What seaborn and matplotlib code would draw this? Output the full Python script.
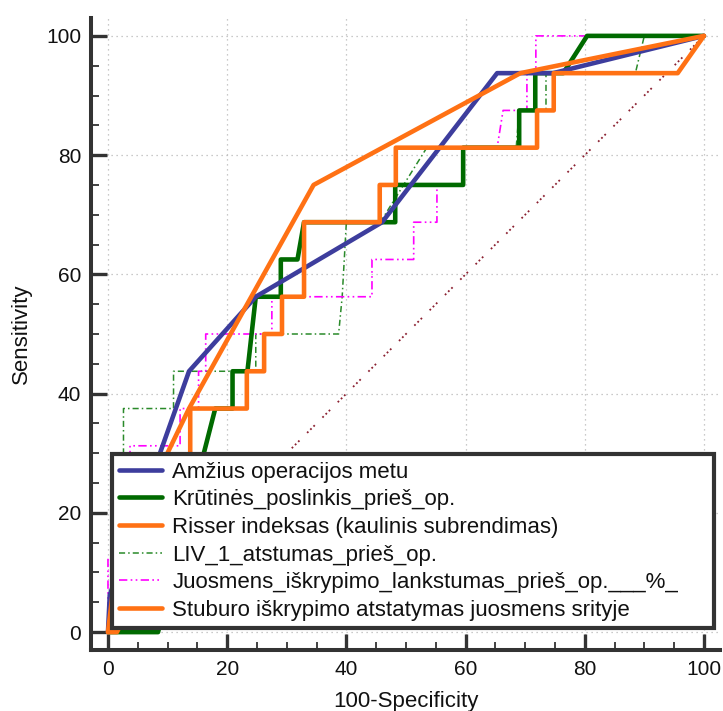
import numpy as np
import pandas as pd
import matplotlib
matplotlib.use("Agg")
import matplotlib.pyplot as plt
import seaborn as sns

# ---------------- data ----------------
amzius_x = [0, 0.3, 13.6, 24.8, 46.0, 65.3, 74.7, 100]
amzius_y = [0, 6.25, 43.75, 56.25, 68.75, 93.75, 93.75, 100]

krutines_x = [0, 8.4, 18.0, 20.9, 20.9, 23.4, 24.8, 29.0, 29.0, 31.8, 32.9, 48.2, 48.2,
              59.6, 59.6, 69.0, 69.0, 71.7, 71.7, 76.4, 80.4, 100]
krutines_y = [0, 0, 37.5, 37.5, 43.75, 43.75, 56.25, 56.25, 62.5, 62.5, 68.75, 68.75, 75,
              75, 81.25, 81.25, 87.5, 87.5, 93.75, 93.75, 100, 100]

risser_x = [0, 1.5, 13.6, 34.5, 69.2, 100]
risser_y = [0, 12.5, 37.5, 75, 93.75, 100]

liv_x = [0, 2.6, 2.6, 11.0, 11.0, 24.8, 24.8, 38.7, 39.3, 40.0, 45.7, 53.5, 68.5, 69.0,
         73.5, 73.5, 88.5, 90.0, 100]
liv_y = [0, 18.75, 37.5, 37.5, 43.75, 43.75, 50, 50, 56.25, 68.75, 68.75, 81.25, 81.25, 87.5,
         87.5, 93.75, 93.75, 100, 100]

juos_x = [0, 0, 3.7, 3.7, 12.1, 12.1, 15.2, 15.2, 16.4, 16.4, 27.5, 27.5, 44.3, 44.3, 51.3,
          51.3, 55.2, 55.2, 59.6, 59.6, 65.3, 66.3, 70.3, 70.3, 71.8, 71.8, 100]
juos_y = [0, 12.5, 12.5, 31.25, 31.25, 37.5, 37.5, 43.75, 43.75, 50, 50, 56.25, 56.25, 62.5, 62.5,
          68.75, 68.75, 75, 75, 81.25, 81.25, 87.5, 87.5, 93.75, 93.75, 100, 100]

stub_x = [0, 1.5, 13.8, 13.8, 23.3, 23.3, 26.2, 26.2, 29.2, 29.2, 32.9, 32.9, 45.6, 45.6,
          48.3, 48.3, 72.0, 72.0, 74.8, 74.8, 95.6, 100]
stub_y = [0, 0, 25, 37.5, 37.5, 43.75, 43.75, 50, 50, 56.25, 56.25, 68.75, 68.75, 75,
          75, 81.25, 81.25, 87.5, 87.5, 93.75, 93.75, 100]

diag_x = [0, 100]
diag_y = [0, 100]

labels = [
    "Amžius operacijos metu",
    "Krūtinės_poslinkis_prieš_op.",
    "Risser indeksas (kaulinis subrendimas)",
    "LIV_1_atstumas_prieš_op.",
    "Juosmens_iškrypimo_lankstumas_prieš_op.___%_",
    "Stuburo iškrypimo atstatymas juosmens srityje",
]
x_ticks = [0, 20, 40, 60, 80, 100]
y_ticks = [0, 20, 40, 60, 80, 100]

# ---------------- style ----------------
sns.set_theme(style="white")
plt.rcParams["font.family"] = ["Liberation Sans", "DejaVu Sans"]
TXT = "#111111"
SPINE = "#333333"

fig = plt.figure(figsize=(7.23, 7.11), dpi=100)
ax = fig.add_axes([91 / 723, 1 - 650 / 711, 629 / 723, 632 / 711])

def df(x, y):
    return pd.DataFrame({"x": x, "y": y})

common = dict(x="x", y="y", sort=False, estimator=None, ax=ax)

sns.lineplot(data=df(diag_x, diag_y), color="#8b2030", linewidth=1.3,
             linestyle=(0, (1, 1.5, 1, 1.5, 1, 6)), zorder=1, **common)
sns.lineplot(data=df(liv_x, liv_y), color="#2a8a2a", linewidth=1.1,
             linestyle=(0, (4, 2, 1, 2)), label=labels[3], zorder=2, **common)
sns.lineplot(data=df(juos_x, juos_y), color="#ff00ff", linewidth=1.2,
             linestyle=(0, (5, 2, 1, 2, 1, 2)), label=labels[4], zorder=2, **common)
sns.lineplot(data=df(krutines_x, krutines_y), color="#006a00", linewidth=3.3,
             label=labels[1], zorder=3, **common)
sns.lineplot(data=df(amzius_x, amzius_y), color="#3d3d9d", linewidth=3.3,
             label=labels[0], zorder=4, **common)
sns.lineplot(data=df(risser_x, risser_y), color="#ff7114", linewidth=3.3,
             label=labels[2], zorder=5, **common)
sns.lineplot(data=df(stub_x, stub_y), color="#ff7114", linewidth=3.3,
             label=labels[5], zorder=6, **common)

ax.set_xlim(-2.85, 102.7)
ax.set_ylim(-3.0, 103.0)
ax.set_xticks(x_ticks)
ax.set_yticks(y_ticks)
ax.set_xticks(np.arange(0, 101, 5), minor=True)
ax.set_yticks(np.arange(0, 101, 5), minor=True)

ax.grid(True, which="major", color="#b8b8b8", linestyle=(0, (1, 3)), linewidth=0.9)
ax.set_axisbelow(True)

for s in ["top", "right"]:
    ax.spines[s].set_visible(False)
for s in ["left", "bottom"]:
    ax.spines[s].set_color(SPINE)
    ax.spines[s].set_linewidth(2.9)

ax.tick_params(which="major", direction="in", length=11.5, width=2.4, color=SPINE,
               labelsize=15, labelcolor=TXT, pad=7, left=True, bottom=True)
ax.tick_params(which="minor", direction="in", length=5.5, width=1.3, color=SPINE,
               left=True, bottom=True)

ax.set_xlabel("100-Specificity", fontsize=16, color=TXT, labelpad=9)
ax.set_ylabel("Sensitivity", fontsize=16, color=TXT, labelpad=10)

# legend in desired order
handles, labs = ax.get_legend_handles_labels()
hmap = dict(zip(labs, handles))
leg = ax.legend([hmap[l] for l in labels], labels, loc="lower left",
                bbox_to_anchor=(0.0334, 0.0348, 0.957, 0.2), mode="expand",
                borderaxespad=0, fontsize=16, frameon=True, fancybox=False,
                framealpha=1, edgecolor=SPINE, borderpad=0.32, labelspacing=0.30,
                handlelength=1.95, handletextpad=0.45)
leg.get_frame().set_linewidth(3)
leg.set_zorder(10)
for t in leg.get_texts():
    t.set_color(TXT)

fig.savefig("out.png", dpi=100)
